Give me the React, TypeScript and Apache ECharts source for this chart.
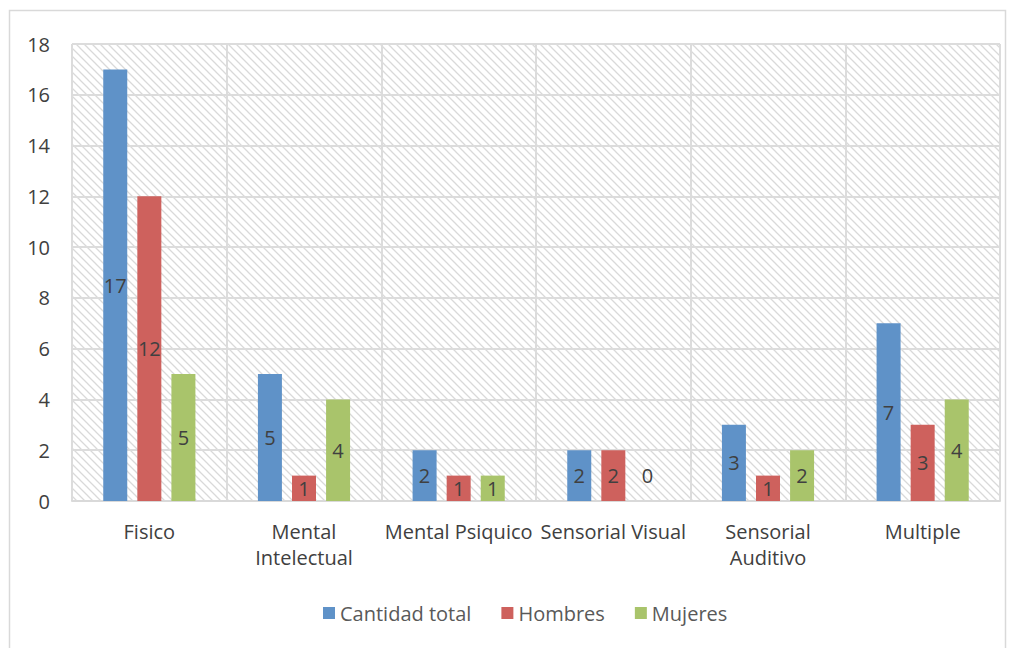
import React, { useEffect, useRef } from "react";
import * as echarts from "echarts";

const categories = ["Fisico", "Mental\nIntelectual", "Mental Psiquico", "Sensorial Visual", "Sensorial\nAuditivo", "Multiple"];
const total = [17, 5, 2, 2, 3, 7];
const hombres = [12, 1, 1, 2, 1, 3];
const mujeres = [5, 4, 1, 0, 2, 4];
const seriesNames = ["Cantidad total", "Hombres", "Mujeres"];
const colors = ["#5F92C8", "#CE615D", "#A9C46B"];

const FONT = "Open Sans";

function makePattern() {
  const n = 8;
  const c = document.createElement("canvas");
  c.width = n;
  c.height = n;
  const ctx = c.getContext("2d")!;
  ctx.fillStyle = "#ffffff";
  ctx.fillRect(0, 0, n, n);
  ctx.strokeStyle = "#d9d9d9";
  ctx.lineWidth = 1.3;
  ctx.beginPath();
  ctx.moveTo(-1, -1);
  ctx.lineTo(n + 1, n + 1);
  ctx.moveTo(-1, n - 1);
  ctx.lineTo(1, n + 1);
  ctx.moveTo(n - 1, -1);
  ctx.lineTo(n + 1, 1);
  ctx.stroke();
  return c;
}

export default function App() {
  const ref = useRef<HTMLDivElement>(null);
  useEffect(() => {
    const chart = echarts.init(ref.current!, undefined, { renderer: "svg" });
    const pattern = makePattern();
    const label = {
      show: true,
      position: "inside" as const,
      color: "#404040",
      fontSize: 20,
      fontFamily: FONT,
    };
    const mk = (name: string, vals: number[], i: number) => ({
      name,
      type: "bar",
      barWidth: 24,
      barGap: "42%",
      itemStyle: { color: colors[i] },
      label,
      data: vals.map((v) =>
        v === 0
          ? { value: v, label: { position: "top", distance: 16 } }
          : v
      ),
    });
    chart.setOption({
      animation: false,
      grid: {
        left: 72,
        right: 15,
        top: 44,
        bottom: 147,
        show: true,
        borderWidth: 0,
        backgroundColor: {
          image: pattern,
          repeat: "repeat",
          imageWidth: 8,
          imageHeight: 8,
        },
      },
      graphic: [
        {
          type: "rect",
          shape: { x: 9.5, y: 10.5, width: 996, height: 640 },
          style: { fill: "none", stroke: "#d9d9d9", lineWidth: 1.5 },
          z: -1,
        },
      ],
      legend: {
        bottom: 20,
        left: 318,
        itemWidth: 12,
        itemHeight: 12,
        itemGap: 30,
        icon: "rect",
        textStyle: { color: "#595959", fontSize: 20, fontFamily: FONT },
        data: seriesNames,
      },
      xAxis: {
        type: "category",
        data: categories,
        axisLine: { lineStyle: { color: "#d9d9d9", width: 2 } },
        axisTick: { show: false },
        splitLine: { show: true, lineStyle: { color: "#dcdcdc", width: 2 } },
        axisLabel: {
          color: "#404040",
          fontSize: 20,
          fontFamily: FONT,
          margin: 17,
          lineHeight: 26,
          interval: 0,
        },
      },
      yAxis: {
        type: "value",
        min: 0,
        max: 18,
        interval: 2,
        axisLine: { show: false },
        axisTick: { show: false },
        splitLine: { lineStyle: { color: "#dcdcdc", width: 2 } },
        axisLabel: {
          color: "#404040",
          fontSize: 20,
          fontFamily: FONT,
          margin: 22,
        },
      },
      series: [mk(seriesNames[0], total, 0), mk(seriesNames[1], hombres, 1), mk(seriesNames[2], mujeres, 2)],
    });
    return () => chart.dispose();
  }, []);
  return (
    <div
      ref={ref}
      style={{ position: "absolute", left: 0, top: 0, width: 1015, height: 648, background: "#fff" }}
    />
  );
}
